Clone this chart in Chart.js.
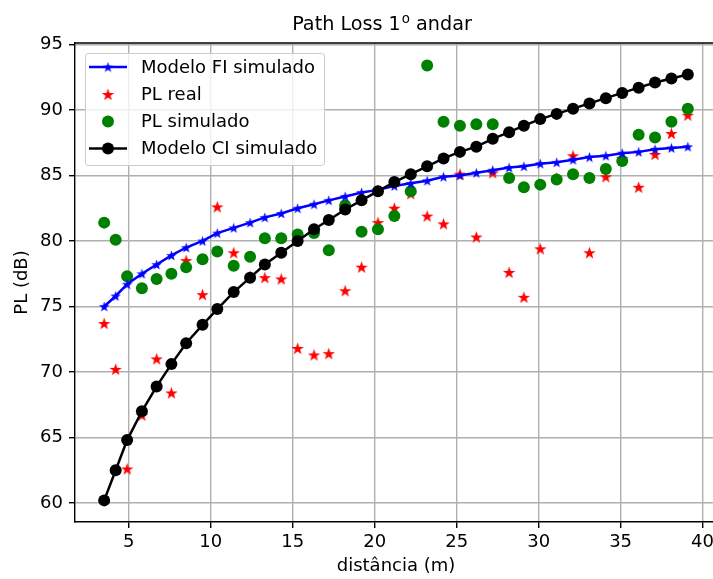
<!DOCTYPE html>
<html>
<head>
<meta charset="utf-8">
<script src="https://cdn.jsdelivr.net/npm/chart.js@4.4.0/dist/chart.umd.min.js"></script>
<style>
html, body { margin: 0; padding: 0; overflow: hidden; background: #fff; }
#wrap { width: 713px; height: 579px; overflow: hidden; position: relative; }
canvas { display: block; }
</style>
</head>
<body>
<div id="wrap"><canvas id="plChart" width="717" height="579"></canvas></div>
<script>
// valores
const distancias = [3.5, 4.2, 4.9, 5.8, 6.7, 7.6, 8.5, 9.5, 10.4, 11.4, 12.4, 13.3, 14.3, 15.3, 16.3, 17.2, 18.2, 19.2, 20.2, 21.2,
    22.2, 23.2, 24.2, 25.2, 26.2, 27.2, 28.2, 29.1, 30.1, 31.1, 32.1, 33.1, 34.1, 35.1, 36.1, 37.1, 38.1, 39.1];
const plModeloFI = [75.0, 75.8, 76.7, 77.5, 78.2, 78.9, 79.5, 80.0, 80.6, 81.0, 81.4, 81.8, 82.1, 82.5, 82.8, 83.1, 83.4, 83.7, 83.9, 84.2,
    84.4, 84.6, 84.9, 85.0, 85.2, 85.4, 85.6, 85.7, 85.9, 86.0, 86.2, 86.4, 86.5, 86.7, 86.8, 87.0, 87.1, 87.2];
const plReal = [73.7, 70.2, 62.6, 66.7, 71.0, 68.4, 78.5, 75.9, 82.6, 79.1, 77.3, 77.2, 77.1, 71.8, 71.3, 71.4, 76.2, 78.0, 81.4, 82.5,
    83.6, 81.9, 81.3, 85.1, 80.3, 85.2, 77.6, 75.7, 79.4, 84.8, 86.5, 79.1, 84.9, 86.3, 84.1, 86.6, 88.2, 89.6];
const plSimulado = [81.4, 80.1, 77.3, 76.4, 77.1, 77.5, 78.0, 78.6, 79.2, 78.1, 78.8, 80.2, 80.2, 80.5, 80.6, 79.3, 82.7, 80.7, 80.9, 81.9,
    83.8, 93.4, 89.1, 88.8, 88.9, 88.9, 84.8, 84.1, 84.3, 84.7, 85.1, 84.8, 85.5, 86.1, 88.1, 87.9, 89.1, 90.1];
const plModeloCI = [60.2, 62.5, 64.8, 67.0, 68.9, 70.6, 72.2, 73.6, 74.8, 76.1, 77.2, 78.2, 79.1, 80.0, 80.9, 81.6, 82.4, 83.1, 83.8, 84.5,
    85.1, 85.7, 86.3, 86.8, 87.2, 87.8, 88.3, 88.8, 89.3, 89.7, 90.1, 90.5, 90.9, 91.3, 91.7, 92.1, 92.4, 92.7];
const xTicks = [5, 10, 15, 20, 25, 30, 35, 40];
const yTicks = [60, 65, 70, 75, 80, 85, 90, 95];

const FONT = "'DejaVu Sans', sans-serif";

function makeStar(color, size) {
    const c = document.createElement('canvas');
    c.width = size;
    c.height = size;
    const g = c.getContext('2d');
    const r = size / 2, ri = r * 0.4;
    g.beginPath();
    for (let i = 0; i < 10; i++) {
        const rad = i % 2 ? ri : r;
        const a = -Math.PI / 2 + i * Math.PI / 5;
        g.lineTo(r + rad * Math.cos(a), r + 0.5 + rad * Math.sin(a));
    }
    g.closePath();
    g.fillStyle = color;
    g.fill();
    return c;
}

const starBlue = makeStar('#0000ff', 11);
const starRed = makeStar('#ff0000', 13);

const toPts = ys => distancias.map((d, i) => ({ x: d, y: ys[i] }));

// moldura, titulo e legenda desenhados à mão (estilo matplotlib)
const extras = {
    id: 'extras',
    beforeDraw(chart) {
        const ctx = chart.ctx;
        ctx.save();
        ctx.fillStyle = '#fff';
        ctx.fillRect(0, 0, chart.width, chart.height);
        ctx.restore();
    },
    afterDraw(chart) {
        const ctx = chart.ctx;
        const a = chart.chartArea;
        ctx.save();
        // top spine
        ctx.strokeStyle = '#000';
        ctx.lineWidth = 1.4;
        ctx.beginPath();
        ctx.moveTo(a.left, a.top);
        ctx.lineTo(a.right, a.top);
        ctx.stroke();

        // title
        ctx.fillStyle = '#000';
        ctx.textBaseline = 'alphabetic';
        const big = '19.2px ' + FONT, small = '13.4px ' + FONT;
        ctx.font = big;
        const p1 = 'Path Loss 1', p3 = ' andar';
        const w1 = ctx.measureText(p1).width, w3 = ctx.measureText(p3).width;
        ctx.font = small;
        const w2 = ctx.measureText('o').width + 1;
        const tx = 382 - (w1 + w2 + w3) / 2;
        const ty = 30;
        ctx.font = big;
        ctx.fillText(p1, tx, ty);
        ctx.font = small;
        ctx.fillText('o', tx + w1 + 1, ty - 7);
        ctx.font = big;
        ctx.fillText(p3, tx + w1 + w2, ty);

        // legend
        const lx = 85, ly = 53, lw = 239, lh = 112;
        ctx.beginPath();
        ctx.roundRect(lx + 0.5, ly + 0.5, lw, lh, 3);
        ctx.fillStyle = 'rgba(255,255,255,0.8)';
        ctx.fill();
        ctx.strokeStyle = '#cccccc';
        ctx.lineWidth = 1;
        ctx.stroke();

        const rows = [67, 94.5, 121.5, 148.5];
        chart.data.datasets.forEach((ds, i) => {
            const y = rows[i];
            if (ds.showLine) {
                ctx.strokeStyle = ds.borderColor;
                ctx.lineWidth = ds.borderWidth;
                ctx.beginPath();
                ctx.moveTo(89, y);
                ctx.lineTo(127, y);
                ctx.stroke();
            }
            const ps = ds.pointStyle;
            if (ps instanceof HTMLCanvasElement) {
                ctx.drawImage(ps, 108 - ps.width / 2, y - ps.height / 2);
            } else {
                ctx.fillStyle = ds.pointBackgroundColor;
                ctx.beginPath();
                ctx.arc(108, y, ds.pointRadius, 0, Math.PI * 2);
                ctx.fill();
            }
            ctx.fillStyle = '#000';
            ctx.font = '18px ' + FONT;
            ctx.textBaseline = 'middle';
            ctx.fillText(ds.label, 141, y + 1);
        });
        ctx.restore();
    }
};

const ctx = document.getElementById('plChart').getContext('2d');
new Chart(ctx, {
    type: 'scatter',
    data: {
        datasets: [{
            label: 'Modelo FI simulado',
            data: toPts(plModeloFI),
            showLine: true,
            borderColor: '#0000ff',
            backgroundColor: '#0000ff',
            borderWidth: 2.5,
            pointStyle: starBlue,
            order: 2
        }, {
            label: 'PL real',
            data: toPts(plReal),
            showLine: false,
            pointStyle: starRed,
            order: 4
        }, {
            label: 'PL simulado',
            data: toPts(plSimulado),
            showLine: false,
            pointStyle: 'circle',
            pointRadius: 6,
            pointBackgroundColor: '#008000',
            pointBorderWidth: 0,
            order: 3
        }, {
            label: 'Modelo CI simulado',
            data: toPts(plModeloCI),
            showLine: true,
            borderColor: '#000000',
            borderWidth: 2.5,
            pointStyle: 'circle',
            pointRadius: 6,
            pointBackgroundColor: '#000000',
            pointBorderWidth: 0,
            order: 1
        }]
    },
    options: {
        responsive: false,
        animation: false,
        events: [],
        layout: { autoPadding: false, padding: { top: 43, left: 0, right: 0, bottom: 0 } },
        plugins: { legend: { display: false }, tooltip: { enabled: false }, title: { display: false } },
        scales: {
            x: {
                type: 'linear',
                min: 1.72,
                max: 40.88,
                afterBuildTicks: s => { s.ticks = xTicks.map(v => ({ value: v })); },
                afterFit: s => { s.height = 57; s.paddingLeft = 0; s.paddingRight = 0; },
                grid: { color: '#b0b0b0', lineWidth: 1.4, tickLength: 6, tickColor: '#000', tickWidth: 1.4 },
                border: { color: '#000', width: 1.4 },
                ticks: { color: '#000', font: { family: FONT, size: 18 }, padding: 4, maxRotation: 0, autoSkip: false },
                title: { display: true, text: 'distância (m)', color: '#000', font: { family: FONT, size: 18 }, padding: { top: 0, bottom: 2.2 } }
            },
            y: {
                type: 'linear',
                min: 58.55,
                max: 95.11,
                afterBuildTicks: s => { s.ticks = yTicks.map(v => ({ value: v })); },
                afterFit: s => { s.width = 75; s.paddingTop = 0; s.paddingBottom = 0; },
                grid: { color: '#b0b0b0', lineWidth: 1.4, tickLength: 6, tickColor: '#000', tickWidth: 1.4 },
                border: { color: '#000', width: 1.4 },
                ticks: { color: '#000', font: { family: FONT, size: 18 }, padding: 6, autoSkip: false },
                title: { display: true, text: 'PL (dB)', color: '#000', font: { family: FONT, size: 18 }, padding: { top: 11.2, bottom: 0 } }
            }
        }
    },
    plugins: [extras]
});
</script>
</body>
</html>
